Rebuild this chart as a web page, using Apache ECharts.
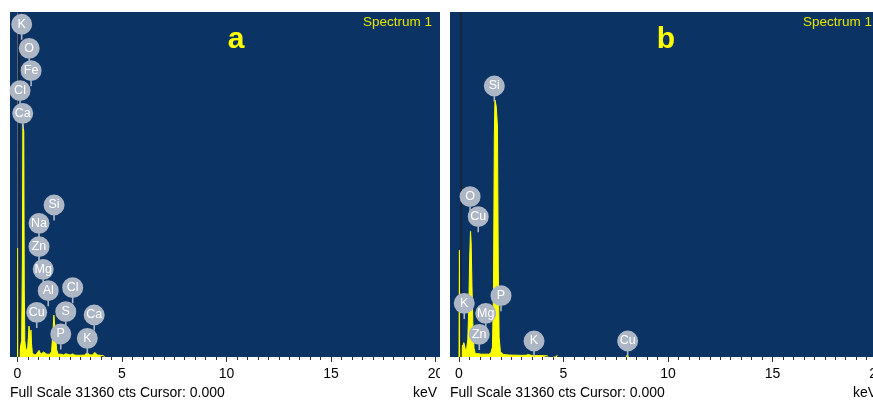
<!DOCTYPE html>
<html>
<head>
<meta charset="utf-8">
<script src="https://cdn.jsdelivr.net/npm/echarts@6/dist/echarts.min.js"></script>
<style>
  html, body { margin: 0; padding: 0; background: #ffffff; }
  #chart { width: 873px; height: 400px; }
</style>
</head>
<body>
<div id="chart"></div>
<script>
// EDS spectrum a: energy (keV) and counts
const energiesA = [0.00, 0.02, 0.045, 0.12, 0.20, 0.235, 0.255, 0.275, 0.30, 0.325, 0.35, 0.39, 0.44, 0.49, 0.52, 0.55, 0.58, 0.61, 0.645, 0.67, 0.71, 0.78, 0.88, 0.97, 1.03, 1.07, 1.12, 1.18, 1.25, 1.32, 1.40, 1.48, 1.55, 1.63, 1.70, 1.74, 1.78, 1.82, 1.87, 1.94, 2.02, 2.10, 2.20, 2.31, 2.40, 2.52, 2.63, 2.75, 2.90, 3.05, 3.20, 3.34, 3.45, 3.58, 3.70, 3.82, 3.95, 4.10, 4.18];
const countsA   = [0, 9900, 300, 700, 1500, 9000, 21200, 21200, 20500, 6000, 1500, 800, 600, 900, 1800, 2800, 2200, 1400, 2450, 1200, 400, 200, 200, 300, 600, 450, 250, 350, 450, 300, 250, 400, 250, 500, 2400, 3800, 3900, 2000, 700, 250, 350, 250, 180, 300, 200, 180, 280, 170, 150, 160, 170, 400, 200, 170, 420, 180, 150, 130, 0];

// EDS spectrum b: energy (keV) and counts (null breaks the trace)
const energiesB = [0.00, 0.02, 0.05, 0.10, 0.16, 0.19, 0.23, 0.28, 0.32, 0.37, 0.42, 0.47, 0.51, 0.55, 0.58, 0.62, 0.67, 0.72, 0.78, 0.86, 0.95, 1.00, 1.06, 1.15, 1.25, 1.33, 1.42, 1.52, 1.60, 1.65, 1.69, 1.72, 1.78, 1.84, 1.88, 1.92, 1.98, 2.03, 2.10, 2.25, 2.40, 2.60, 2.80, 3.00, 3.20, 3.32, 3.45, 3.65, 3.85, 4.05, 4.22, 4.28, 4.40, 4.52, 4.56, 4.60, 4.66, 4.70, 4.74, 6.00, 8.00, 8.05, 8.10];
const countsB   = [0, 9700, 400, 300, 1100, 700, 1300, 900, 500, 800, 1600, 4500, 9000, 11450, 10500, 6500, 2500, 800, 300, 250, 300, 380, 250, 200, 260, 200, 250, 350, 900, 6000, 20000, 23360, 22800, 21000, 8000, 1800, 500, 450, 250, 200, 180, 170, 160, 150, 160, 220, 150, 140, 130, 120, 110, 0, null, 0, 180, 0, 0, 180, 0, null, 0, 200, 0];

// element markers: name, energy (keV), marker height (counts)
const markerNamesA = ['K', 'O', 'Fe', 'Cl', 'Ca', 'Si', 'Na', 'Zn', 'Mg', 'Al', 'Cl', 'Cu', 'S', 'Ca', 'P', 'K'];
const markerKeVA   = [0.20, 0.56, 0.65, 0.12, 0.25, 1.75, 1.03, 1.03, 1.23, 1.47, 2.64, 0.92, 2.31, 3.67, 2.07, 3.34];
const markerCtsA   = [30245, 28060, 26025, 24207, 22152, 13817, 12153, 10026, 7972, 6027, 6299, 4063, 4118, 3818, 2091, 1700];

const markerNamesB = ['Si', 'O', 'Cu', 'P', 'K', 'Mg', 'Zn', 'K', 'Cu'];
const markerKeVB   = [1.69, 0.53, 0.92, 2.01, 0.25, 1.28, 0.97, 3.59, 8.07];
const markerCtsB   = [24634, 14571, 12753, 5572, 4881, 3972, 2063, 1454, 1454];

const tickValues = [0, 5, 10, 15, 20];
const fullScale = 31360;
const zeroLineKeV = 0.07;

const NAVY = '#0b3465';
const FONT = '"Liberation Sans", Arial, sans-serif';

function pairs(xs, ys) {
  return xs.map((x, i) => [x, ys[i]]);
}

// round marker head with a short stem underneath
const pinPath = 'path://M10,0 A10,10 0 1,1 9.99,0 Z M9.25,19 L10.75,19 L10.75,25 L9.25,25 Z';

function spectrumSeries(idx, xs, ys) {
  return {
    type: 'line',
    xAxisIndex: idx, yAxisIndex: idx,
    data: pairs(xs, ys),
    showSymbol: false,
    connectNulls: false,
    lineStyle: { color: '#ffff00', width: 1 },
    areaStyle: { color: '#ffff00', opacity: 1 },
    itemStyle: { color: '#ffff00' },
    z: 2,
    silent: true,
    animation: false,
    markLine: {
      silent: true,
      symbol: 'none',
      label: { show: false },
      lineStyle: { color: '#1c2230', width: 1.5, type: 'solid' },
      data: [{ xAxis: zeroLineKeV }],
      animation: false
    }
  };
}

function markerSeries(idx, names, kev, cts) {
  return {
    type: 'scatter',
    xAxisIndex: idx, yAxisIndex: idx,
    data: names.map((n, i) => ({ name: n, value: [kev[i], cts[i]] })),
    symbol: pinPath,
    symbolSize: [21, 26],
    symbolOffset: [0, 2.6],
    itemStyle: { color: '#adb6c5', opacity: 1 },
    label: {
      show: true,
      position: 'inside',
      offset: [0, -2.6],
      formatter: p => p.name,
      color: '#ffffff',
      fontFamily: FONT,
      fontSize: 12.5
    },
    z: 5,
    silent: true,
    animation: false
  };
}

function xAxisFor(idx) {
  return {
    gridIndex: idx,
    type: 'value',
    min: 0, max: 20, interval: 5,
    axisLine: { show: false },
    axisTick: { show: true, length: 5, lineStyle: { color: '#333333', width: 1 } },
    minorTick: { show: true, splitNumber: 10, length: 3, lineStyle: { color: '#333333', width: 1 } },
    splitLine: { show: false },
    axisLabel: {
      color: '#000000', fontSize: 14, fontFamily: FONT, margin: 10,
      formatter: v => (tickValues.indexOf(v) >= 0 ? String(v) : '')
    }
  };
}

function yAxisFor(idx) {
  return {
    gridIndex: idx, type: 'value', min: 0, max: fullScale,
    show: false, splitLine: { show: false }
  };
}

const chart = echarts.init(document.getElementById('chart'), null, { renderer: 'canvas' });

chart.setOption({
  animation: false,
  backgroundColor: '#ffffff',
  grid: [
    { left: 17.5, top: 12, width: 418, height: 345, show: true, backgroundColor: NAVY, borderWidth: 0, outerBoundsMode: 'none', containLabel: false },
    { left: 459, top: 12, width: 418, height: 345, show: true, backgroundColor: NAVY, borderWidth: 0, outerBoundsMode: 'none', containLabel: false }
  ],
  xAxis: [xAxisFor(0), xAxisFor(1)],
  yAxis: [yAxisFor(0), yAxisFor(1)],
  series: [
    spectrumSeries(0, energiesA, countsA),
    spectrumSeries(1, energiesB, countsB),
    markerSeries(0, markerNamesA, markerKeVA, markerCtsA),
    markerSeries(1, markerNamesB, markerKeVB, markerCtsB)
  ],
  graphic: [
    // plot background outside the 0–20 keV range
    { type: 'rect', z: 0, shape: { x: 10, y: 12, width: 7.5, height: 345 }, style: { fill: NAVY } },
    { type: 'rect', z: 0, shape: { x: 435, y: 12, width: 6, height: 345 }, style: { fill: NAVY } },
    { type: 'rect', z: 0, shape: { x: 450, y: 12, width: 9, height: 345 }, style: { fill: NAVY } },
    // spectrum titles
    { type: 'text', z: 10, style: { text: 'Spectrum 1', x: 432, y: 22, align: 'right', verticalAlign: 'middle', fill: '#e4e400', font: '13.5px ' + FONT } },
    { type: 'text', z: 10, style: { text: 'Spectrum 1', x: 872, y: 22, align: 'right', verticalAlign: 'middle', fill: '#e4e400', font: '13.5px ' + FONT } },
    // panel letters
    { type: 'text', z: 10, style: { text: 'a', x: 236, y: 40, align: 'center', verticalAlign: 'middle', fill: '#ffff00', font: 'bold 30px ' + FONT } },
    { type: 'text', z: 10, style: { text: 'b', x: 666, y: 40, align: 'center', verticalAlign: 'middle', fill: '#ffff00', font: 'bold 30px ' + FONT } },
    // status lines
    { type: 'text', z: 10, style: { text: 'Full Scale 31360 cts Cursor: 0.000', x: 10, y: 393, align: 'left', verticalAlign: 'middle', fill: '#000000', font: '14px ' + FONT } },
    { type: 'text', z: 10, style: { text: 'keV', x: 413, y: 393, align: 'left', verticalAlign: 'middle', fill: '#000000', font: '14px ' + FONT } },
    { type: 'text', z: 10, style: { text: 'Full Scale 31360 cts Cursor: 0.000', x: 450, y: 393, align: 'left', verticalAlign: 'middle', fill: '#000000', font: '14px ' + FONT } },
    { type: 'text', z: 10, style: { text: 'keV', x: 853, y: 393, align: 'left', verticalAlign: 'middle', fill: '#000000', font: '14px ' + FONT } },
    // gap between the two panels
    { type: 'rect', z: 100, shape: { x: 440, y: 0, width: 10, height: 400 }, style: { fill: '#ffffff' } }
  ]
});
</script>
</body>
</html>
